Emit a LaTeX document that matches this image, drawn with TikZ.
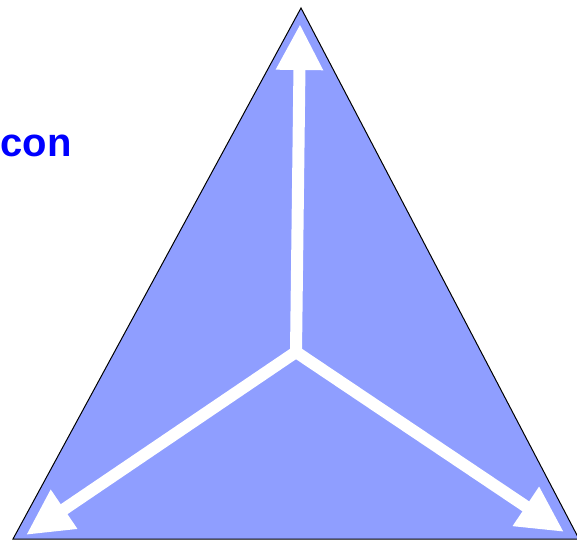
\documentclass[tikz,border=0pt]{standalone}
\usepackage{fontspec}
\setmainfont{Liberation Sans}
\usetikzlibrary{arrows.meta}
\definecolor{triblue}{RGB}{143,158,255}
\begin{document}
\begin{tikzpicture}[x=1pt,y=1pt]
\useasboundingbox (0,0) rectangle (577,540);
\tikzset{vec/.style={white,line width=12pt,-{Triangle[length=46pt,width=44pt]}}}
\coordinate (top) at (301,532);
\coordinate (left) at (13,1);
\coordinate (right) at (579,1);
\draw[fill=triblue,line width=1pt] (top) -- (left) -- (right) -- cycle;
\coordinate (o) at (296,188);
\coordinate (tu) at (300,516);
\coordinate (tl) at (26,5);
\coordinate (tr) at (564,8);
\draw[vec] (o) -- (tu);
\draw[vec] (o) -- (tl);
\draw[vec] (o) -- (tr);
\node[anchor=base east,inner sep=0pt,text=blue,font=\fontsize{40}{48}\selectfont\bfseries] (word) at (72,383) {con};
\end{tikzpicture}
\end{document}
